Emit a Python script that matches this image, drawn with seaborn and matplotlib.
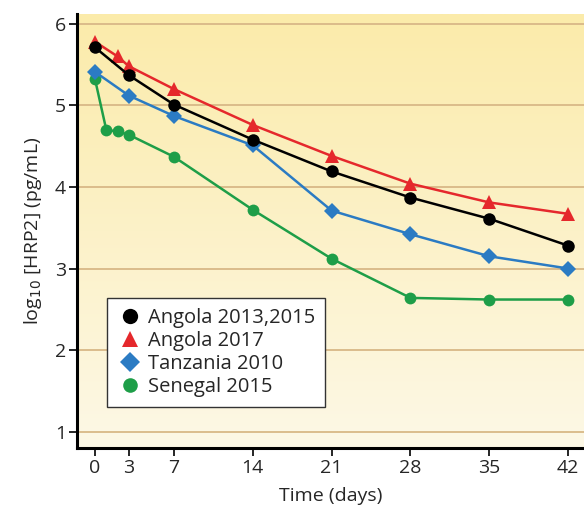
import matplotlib
matplotlib.use("Agg")
import matplotlib.pyplot as plt
import numpy as np
import pandas as pd
import seaborn as sns
from matplotlib.colors import LinearSegmentedColormap
from matplotlib.lines import Line2D

SERIES = ["Angola 2013, 2015", "Angola 2017", "Tanzania 2010", "Senegal 2015"]

angola_1315_days = [0, 3, 7, 14, 21, 28, 35, 42]
angola_1315_vals = [5.71, 5.37, 5.01, 4.58, 4.19, 3.87, 3.61, 3.28]

angola_2017_days = [0, 2, 3, 7, 14, 21, 28, 35, 42]
angola_2017_vals = [5.78, 5.60, 5.48, 5.20, 4.76, 4.38, 4.04, 3.81, 3.67]

tanzania_days = [0, 3, 7, 14, 21, 28, 35, 42]
tanzania_vals = [5.41, 5.12, 4.87, 4.51, 3.71, 3.42, 3.15, 3.00]

senegal_days = [0, 1, 2, 3, 7, 14, 21, 28, 35, 42]
senegal_vals = [5.32, 4.70, 4.68, 4.64, 4.37, 3.72, 3.12, 2.64, 2.62, 2.62]

x_ticks = [0, 3, 7, 14, 21, 28, 35, 42]
y_ticks = [1, 2, 3, 4, 5, 6]

PALETTE = {
    "Angola 2013, 2015": "#000000",
    "Angola 2017": "#E5282C",
    "Tanzania 2010": "#2B7BC3",
    "Senegal 2015": "#1E9E48",
}
MARKERS = {
    "Angola 2013, 2015": "o",
    "Angola 2017": "^",
    "Tanzania 2010": "D",
    "Senegal 2015": "o",
}
SIZES = {
    "Angola 2013, 2015": 9,
    "Angola 2017": 10,
    "Tanzania 2010": 8.5,
    "Senegal 2015": 8.5,
}

frames = []
for name, days, vals in [
    (SERIES[0], angola_1315_days, angola_1315_vals),
    (SERIES[1], angola_2017_days, angola_2017_vals),
    (SERIES[2], tanzania_days, tanzania_vals),
    (SERIES[3], senegal_days, senegal_vals),
]:
    frames.append(pd.DataFrame({"day": days, "value": vals, "series": name}))
df = pd.concat(frames, ignore_index=True)

sns.set_theme(style="white")
plt.rcParams["font.family"] = ["Open Sans", "DejaVu Sans"]

fig = plt.figure(figsize=(5.84, 5.12), dpi=100)
ax = fig.add_axes([77 / 584, 64 / 512, 507 / 584, 434 / 512])

# yellow gradient background
cmap = LinearSegmentedColormap.from_list("bg", ["#FDF8E6", "#FBEBAA"])
grad = np.linspace(0, 1, 256).reshape(-1, 1)
ax.imshow(grad, cmap=cmap, aspect="auto", extent=[0, 1, 0, 1], origin="lower",
          transform=ax.transAxes, zorder=0)

for y in y_ticks:
    ax.axhline(y, color="#D8B887", lw=1.3, zorder=1)

# draw series in reverse so Angola 2013/2015 ends up near top
for name in SERIES[::-1]:
    sub = df[df["series"] == name]
    sns.lineplot(
        data=sub, x="day", y="value", ax=ax, color=PALETTE[name],
        marker=MARKERS[name], markersize=SIZES[name], markeredgewidth=0,
        linewidth=1.8, zorder=3, legend=False,
    )

ax.set_xlim(-1.6, 43.4)
ax.set_ylim(0.8, 6.12)
ax.set_xticks(x_ticks)
ax.set_yticks(y_ticks)
ax.tick_params(axis="both", which="both", length=6, width=1.2, color="black",
               labelsize=14, direction="out", bottom=True, left=True, pad=2)
for side in ["top", "right"]:
    ax.spines[side].set_visible(False)
for side in ["left", "bottom"]:
    ax.spines[side].set_color("black")
    ax.spines[side].set_linewidth(2.2)

ax.set_xlabel("Time (days)", fontsize=14, labelpad=7)
ax.set_ylabel("log$_{10}$ [HRP2] (pg/mL)", fontsize=14, labelpad=8)

handles = [
    Line2D([], [], ls="none", marker=MARKERS[n], color=PALETTE[n],
           markersize=SIZES[n] + 2, markeredgewidth=0)
    for n in SERIES
]
labels = ["Angola 2013,2015", "Angola 2017", "Tanzania 2010", "Senegal 2015"]
leg = ax.legend(handles, labels, loc="lower left", bbox_to_anchor=(0.06, 0.095),
                frameon=True, fancybox=False, fontsize=14.5, handletextpad=0.3,
                borderpad=0.5, labelspacing=0.15, handlelength=1.2,
                borderaxespad=0)
leg.get_frame().set_edgecolor("#333333")
leg.get_frame().set_linewidth(1.0)
leg.get_frame().set_facecolor("white")
leg.get_frame().set_alpha(1)

fig.savefig("out.png", dpi=100)
